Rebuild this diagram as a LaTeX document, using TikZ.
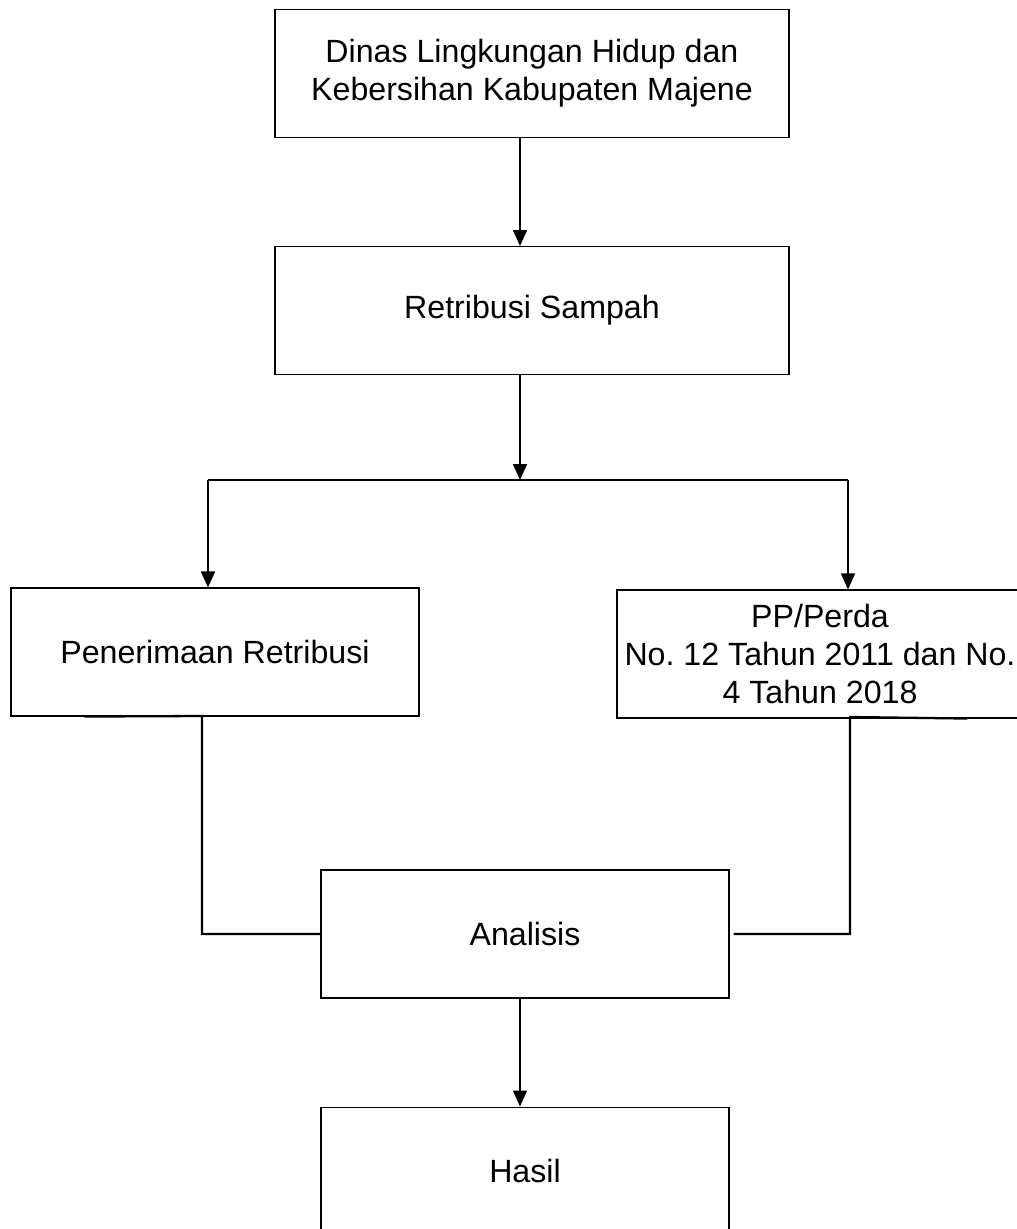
\documentclass[tikz,border=0pt]{standalone}
\usepackage{fontspec}
\setmainfont{Liberation Sans}
\frenchspacing
\usepackage{tikz}
\usetikzlibrary{shapes.geometric, arrows.meta, positioning}
\tikzstyle{process} = [rectangle, minimum width=8.16cm, minimum height=2.56cm, inner sep=0pt, align=center, draw=black, line width=0.6pt, fill=white, font=\fontsize{18.3}{21.5}\selectfont]
\tikzstyle{wide} = [process, minimum width=10.28cm]
\tikzstyle{arrow} = [line width=0.9pt, -{Triangle[length=0.32cm, width=0.28cm]}]
\tikzstyle{link} = [line width=1.3pt]

\begin{document}
\begin{tikzpicture}

\useasboundingbox (0,0) rectangle (20.34,-24.58);

\node (dinas) [wide] at (10.64,-1.47) {Dinas Lingkungan Hidup dan\\Kebersihan Kabupaten Majene};
\node (retribusi) [wide, below=2.16cm of dinas] {Retribusi Sampah};
\node (penerimaan) [process] at (4.30,-13.04) {Penerimaan Retribusi};
\node (perda) [process, minimum width=8.12cm] at (16.40,-13.08) {PP/Perda\\No. 12 Tahun 2011 dan No.\\4 Tahun 2018};
\node (analisis) [process] at (10.50,-18.68) {Analisis};
\node (hasil) [process, below=2.16cm of analisis] {Hasil};

\coordinate (trunk) at (10.40,-9.60);
\coordinate (cabangkiri) at (4.16,-9.60);
\coordinate (cabangkanan) at (16.96,-9.60);
\coordinate (kiri) at (4.04,-14.32);
\coordinate (kanan) at (17.00,-14.34);

\draw [arrow] (dinas.south -| trunk) -- (retribusi.north -| trunk);
\draw [arrow] (retribusi.south -| trunk) -- (trunk);
\draw [link] (cabangkiri) -- (cabangkanan);
\draw [arrow] (cabangkiri) -- (penerimaan.north -| cabangkiri);
\draw [arrow] (cabangkanan) -- (perda.north -| cabangkanan);

% garis ke analisis
\draw [link] (penerimaan.south west) ++(1.48,0) -- (kiri) |- (analisis.west);
\draw [link] (perda.south west) ++(7.02,0) -- (kanan) |- ([xshift=0.08cm]analisis.east);

\draw [arrow] (analisis.south -| trunk) -- (hasil.north -| trunk);

\end{tikzpicture}
\end{document}
